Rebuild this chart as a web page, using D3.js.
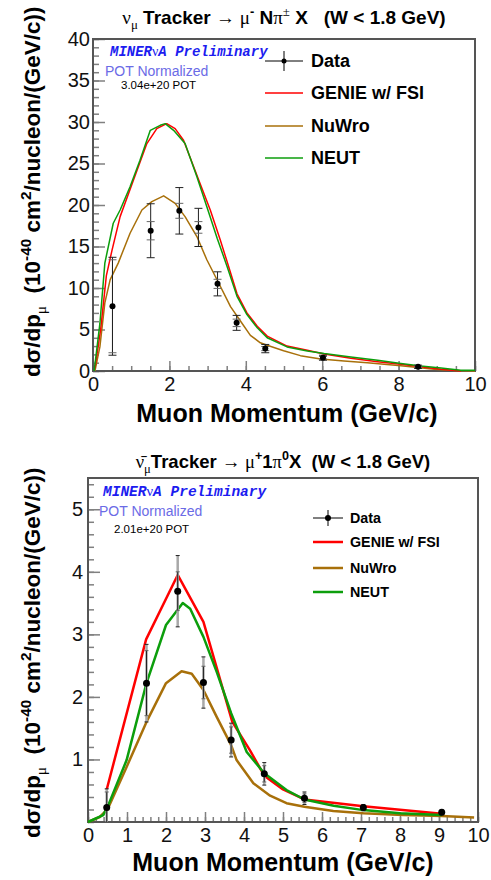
<!DOCTYPE html>
<html>
<head>
<meta charset="utf-8">
<script src="https://cdn.jsdelivr.net/npm/d3@7"></script>
<style>
  body { margin: 0; background: #fff; }
  svg { display: block; font-family: "Liberation Sans", Arial, sans-serif; }
  text { white-space: pre; }
</style>
</head>
<body>
<svg id="chart" width="491" height="880"></svg>
<script>
// ---- top panel: nu_mu -> mu- N pi+- X ----
const topDataX = [0.51, 1.51, 2.26, 2.76, 3.26, 3.76, 4.51, 6.02, 8.51];
const topDataY = [7.8, 16.9, 19.3, 17.3, 10.5, 5.8, 2.7, 1.6, 0.5];
const topTotErr = [5.9, 3.25, 2.8, 2.3, 1.45, 0.9, 0.5, 0.3, 0.2];
const topStatErr = [5.6, 1.1, 0.9, 0.7, 0.55, 0.45, 0.25, 0.15, 0.1];

const topGenie = [[0.05, 0.3], [0.2, 5], [0.35, 11.5], [0.5, 14.6], [0.71, 18.6], [1.06, 23.0], [1.41, 27.4],
  [1.67, 29.2], [1.93, 29.8], [2.15, 29.2], [2.37, 27.8], [2.81, 22.5], [3.07, 19.4], [3.33, 15.8],
  [3.55, 12.6], [3.77, 9.3], [4.03, 7.0], [4.3, 5.4], [4.56, 4.2], [5.08, 3.0], [5.61, 2.5], [6.05, 2.05],
  [6.75, 1.53], [7.45, 1.12], [8.06, 0.8], [8.58, 0.52], [9.11, 0.2], [9.63, 0]];
const topNuwro = [[0.05, 0], [0.18, 2.9], [0.31, 8.2], [0.45, 11.0], [0.66, 13.0], [0.97, 16.6], [1.28, 19.4],
  [1.54, 20.4], [1.85, 21.1], [2.15, 20.2], [2.41, 18.6], [2.72, 16.2], [2.98, 13.4], [3.29, 10.6],
  [3.6, 7.75], [3.9, 5.75], [4.12, 4.3], [4.38, 3.4], [4.56, 3.1], [4.99, 2.45], [5.43, 1.85], [5.96, 1.45],
  [6.57, 1.2], [7.18, 1.0], [8.06, 0.64], [8.93, 0.2], [9.45, 0.05], [10, 0]];
const topNeut = [[0.03, 0], [0.18, 5.7], [0.31, 13.0], [0.53, 17.8], [0.71, 19.4], [0.97, 22.2], [1.23, 25.4],
  [1.5, 29.0], [1.76, 29.6], [1.89, 29.8], [2.11, 29.0], [2.41, 27.4], [2.72, 23.4], [2.98, 19.8],
  [3.25, 16.0], [3.51, 12.6], [3.77, 9.0], [4.03, 6.8], [4.3, 5.2], [4.56, 4.0], [5.08, 2.9], [5.61, 2.4],
  [6.05, 2.1], [6.75, 1.7], [7.45, 1.3], [8.06, 0.9], [8.58, 0.6], [9.11, 0.35], [9.63, 0.1], [10, 0.08]];

// ---- bottom panel: nubar_mu -> mu+ 1pi0 X ----
const botDataX = [0.48, 1.50, 2.30, 2.96, 3.67, 4.52, 5.55, 7.06, 9.07];
const botDataY = [0.23, 2.22, 3.69, 2.23, 1.31, 0.77, 0.38, 0.23, 0.155];
const botTotErr = [0.3, 0.62, 0.57, 0.41, 0.27, 0.18, 0.1, 0.05, 0.04];
const botStatErr = [0.25, 0.52, 0.31, 0.26, 0.21, 0.13, 0.07, 0.03, 0.02];

const botGenie = [[0.48, 0.52], [1.49, 2.92], [2.30, 3.95], [2.96, 3.2], [3.70, 1.6], [4.15, 1.15],
  [4.52, 0.74], [5.0, 0.52], [5.55, 0.36], [7.06, 0.25], [9.07, 0.13]];
const botNuwro = [[0, 0], [0.3, 0.08], [0.5, 0.2], [0.99, 0.88], [1.5, 1.6], [2.0, 2.22], [2.4, 2.41],
  [2.66, 2.37], [2.96, 2.11], [3.3, 1.68], [3.67, 1.23], [3.81, 0.99], [4.24, 0.62], [4.67, 0.42],
  [5.09, 0.3], [5.55, 0.245], [6.29, 0.175], [7.06, 0.14], [8.08, 0.11], [9.07, 0.096], [9.9, 0.07]];
const botNeut = [[0, 0], [0.39, 0.11], [0.52, 0.27], [0.99, 0.99], [1.5, 2.22], [2.0, 3.15], [2.43, 3.5],
  [2.62, 3.41], [2.96, 2.96], [3.3, 2.4], [3.67, 1.74], [4.07, 1.12], [4.52, 0.78], [5.09, 0.51],
  [5.55, 0.36], [6.3, 0.26], [7.06, 0.19], [8.0, 0.14], [9.07, 0.11]];

const legendLabels = ['Data', 'GENIE w/ FSI', 'NuWro', 'NEUT'];
const colors = { genie: '#ff0000', nuwro: '#a8700a', neut: '#0c9e0c' };
const serif = '"Liberation Serif", "DejaVu Serif", serif';

const svg = d3.select('#chart');

// append tspans with sub/superscripts
function richText(sel, parts, size) {
  let shift = 0;
  parts.forEach(([t, kind, fam]) => {
    const target = kind === 'sup' ? -0.42 * size : kind === 'sub' ? 0.28 * size : 0;
    const ts = sel.append('tspan').text(t).attr('dy', target - shift);
    if (kind) ts.attr('font-size', size * 0.68);
    if (fam) ts.attr('font-family', fam).attr('font-weight', 'normal');
    shift = target;
  });
}

function drawPanel(p) {
  const x = d3.scaleLinear().domain([0, 10]).range([p.left, p.right]);
  const y = d3.scaleLinear().domain([0, p.ymax]).range([p.bottom, p.top]);
  const g = svg.append('g');

  // ticks (ROOT style, inside the frame)
  const tickStyle = (sel) => {
    sel.select('.domain').remove();
    sel.selectAll('.tick line').attr('stroke', '#808080').attr('stroke-width', 1.5);
    sel.selectAll('text').attr('font-size', 20).attr('fill', '#111')
      .attr('font-family', '"Liberation Sans", Arial, sans-serif');
  };
  g.append('g').attr('transform', `translate(0,${p.bottom})`)
    .call(d3.axisBottom(x).tickValues(p.xMinor).tickFormat('').tickSize(-5))
    .call(tickStyle);
  g.append('g').attr('transform', `translate(0,${p.bottom})`)
    .call(d3.axisBottom(x).tickValues(p.xMajor).tickFormat(d3.format('d')).tickSize(-10).tickPadding(6))
    .call(tickStyle);
  g.append('g').attr('transform', `translate(${p.left},0)`)
    .call(d3.axisLeft(y).tickValues(p.yMinor).tickFormat('').tickSize(-6))
    .call(tickStyle);
  g.append('g').attr('transform', `translate(${p.left},0)`)
    .call(d3.axisLeft(y).tickValues(p.yMajor).tickFormat(d3.format('d')).tickSize(-12).tickPadding(p.yPad))
    .call(tickStyle);

  // frame
  g.append('rect')
    .attr('x', p.left).attr('y', p.top)
    .attr('width', p.right - p.left).attr('height', p.bottom - p.top)
    .attr('fill', 'none').attr('stroke', '#555').attr('stroke-width', 2);

  // model curves
  const line = d3.line().x((d) => x(d[0])).y((d) => y(d[1]));
  [[p.nuwro, colors.nuwro], [p.genie, colors.genie], [p.neut, colors.neut]].forEach(([c, col]) => {
    g.append('path').datum(c).attr('d', line)
      .attr('fill', 'none').attr('stroke', col).attr('stroke-width', p.lw)
      .attr('stroke-linejoin', 'round');
  });

  // data with error bars
  const pts = p.dx.map((v, i) => ({ x: v, y: p.dy[i], tot: p.tot[i], stat: p.stat[i] }));
  const eb = g.append('g');
  pts.forEach((d) => {
    const cx = x(d.x);
    eb.append('line').attr('x1', cx).attr('x2', cx)
      .attr('y1', y(d.y + d.tot)).attr('y2', y(Math.max(0, d.y - d.tot)))
      .attr('stroke', p.grayTot ? '#a8a8a8' : '#222').attr('stroke-width', p.grayTot ? 2.5 : 1);
    eb.append('line').attr('x1', cx).attr('x2', cx)
      .attr('y1', y(d.y + d.stat)).attr('y2', y(Math.max(0, d.y - d.stat)))
      .attr('stroke', '#222').attr('stroke-width', 1);
    [d.y + d.tot, d.y - d.tot].forEach((v) => {
      if (v < 0) return;
      eb.append('line').attr('x1', cx - p.cap).attr('x2', cx + p.cap)
        .attr('y1', y(v)).attr('y2', y(v)).attr('stroke', '#222').attr('stroke-width', 1);
    });
    [d.y + d.stat, d.y - d.stat].forEach((v) => {
      if (v < 0) return;
      eb.append('line').attr('x1', cx - p.cap).attr('x2', cx + p.cap)
        .attr('y1', y(v)).attr('y2', y(v)).attr('stroke', '#666').attr('stroke-width', 1);
    });
  });
  g.append('g').selectAll('circle').data(pts).join('circle')
    .attr('cx', (d) => x(d.x)).attr('cy', (d) => y(d.y)).attr('r', p.r).attr('fill', '#000');

  // legend
  const lg = g.append('g');
  legendLabels.forEach((lab, i) => {
    const ly = p.legY[i];
    const col = [null, colors.genie, colors.nuwro, colors.neut][i];
    lg.append('line').attr('x1', p.legX0).attr('x2', p.legX1).attr('y1', ly).attr('y2', ly)
      .attr('stroke', col || '#000').attr('stroke-width', col ? p.legLw : 1);
    if (!col) {
      const mx = (p.legX0 + p.legX1) / 2;
      lg.append('line').attr('x1', mx).attr('x2', mx).attr('y1', ly - p.legBar).attr('y2', ly + p.legBar)
        .attr('stroke', '#000').attr('stroke-width', 1);
      lg.append('circle').attr('cx', mx).attr('cy', ly).attr('r', p.r - 0.5).attr('fill', '#000');
    }
    lg.append('text').attr('x', p.legTx).attr('y', ly + p.legFs * 0.36)
      .attr('font-size', p.legFs).attr('font-weight', 'bold').attr('fill', '#000').text(lab);
  });

  // annotations
  const mv = g.append('text').attr('x', p.minX).attr('y', p.minY)
    .attr('font-family', '"Liberation Mono", "Courier New", monospace')
    .attr('font-style', 'italic').attr('font-weight', 'bold')
    .attr('font-size', p.minFs).attr('fill', '#1c1cf0');
  mv.append('tspan').text('MINER');
  mv.append('tspan').text('ν').attr('font-family', serif).attr('font-style', 'normal').attr('font-weight', 'normal');
  mv.append('tspan').text('A Preliminary');
  g.append('text').attr('x', p.potX).attr('y', p.potY).attr('font-size', 14)
    .attr('fill', '#6b6be6').text('POT Normalized');
  g.append('text').attr('x', p.expX).attr('y', p.expY).attr('font-size', 11.5)
    .attr('fill', '#000').text(p.exposure);

  // title
  const t = g.append('text').attr('x', p.titleX).attr('y', p.titleY).attr('text-anchor', 'middle')
    .attr('font-size', p.titleFs).attr('font-weight', 'bold').attr('fill', '#000');
  richText(t, p.title, p.titleFs);

  // axis titles
  g.append('text').attr('x', (p.left + p.right) / 2 + p.xtDx).attr('y', p.xtY)
    .attr('text-anchor', 'middle').attr('font-size', 25).attr('font-weight', 'bold')
    .attr('fill', '#000').text('Muon Momentum (GeV/c)');
  const yt = g.append('text').attr('transform', `translate(${p.ytX},${p.ytY}) rotate(-90)`)
    .attr('font-size', 22.5).attr('font-weight', 'bold').attr('fill', '#000');
  richText(yt, [['dσ/dp'], ['μ', 'sub', serif], ['  (10'], ['-40', 'sup'], [' cm'], ['2', 'sup'],
    ['/nucleon/(GeV/c))']], 22.5);
}

drawPanel({
  left: 93, right: 475, top: 39, bottom: 371, ymax: 40,
  xMajor: [0, 2, 4, 6, 8, 10], xMinor: d3.range(0, 10.01, 0.5),
  yMajor: d3.range(0, 41, 5), yMinor: d3.range(0, 40.5, 1), yPad: 3,
  genie: topGenie, nuwro: topNuwro, neut: topNeut, lw: 1.5,
  dx: topDataX, dy: topDataY, tot: topTotErr, stat: topStatErr, grayTot: false, cap: 4, r: 3,
  legX0: 265, legX1: 303, legTx: 311, legY: [61, 93, 126, 158], legFs: 18, legLw: 1.5, legBar: 10,
  minX: 110, minY: 56, minFs: 14, potX: 105, potY: 76, expX: 121, expY: 89, exposure: '3.04e+20 POT',
  titleX: 284, titleY: 24, titleFs: 19,
  title: [['ν', null, serif], ['μ', 'sub', serif], [' Tracker '], ['→', null, serif], [' μ', null, serif],
    ['-', 'sup'], [' N'], ['π', null, serif], ['±', 'sup', serif], [' X   (W < 1.8 GeV)']],
  xtDx: 3, xtY: 422, ytX: 40, ytY: 377
});

drawPanel({
  left: 88, right: 478, top: 478, bottom: 822, ymax: 5.5,
  xMajor: d3.range(0, 11, 1), xMinor: d3.range(0, 10.01, 0.2),
  yMajor: [1, 2, 3, 4, 5], yMinor: d3.range(0, 5.41, 0.2), yPad: 5,
  genie: botGenie, nuwro: botNuwro, neut: botNeut, lw: 2.5,
  dx: botDataX, dy: botDataY, tot: botTotErr, stat: botStatErr, grayTot: true, cap: 2, r: 3.5,
  legX0: 313, legX1: 343, legTx: 350, legY: [518, 542, 568, 592], legFs: 14.3, legLw: 2.5, legBar: 8,
  minX: 103, minY: 496, minFs: 14.5, potX: 99, potY: 516, expX: 114, expY: 533, exposure: '2.01e+20 POT',
  titleX: 283, titleY: 468, titleFs: 18.5,
  title: [['ν̄', null, serif], ['μ', 'sub', serif], ['Tracker '], ['→', null, serif], [' μ', null, serif],
    ['+', 'sup'], ['1'], ['π', null, serif], ['0', 'sup'], ['X  (W < 1.8 GeV)']],
  xtDx: 0, xtY: 871, ytX: 40, ytY: 838
});
</script>
</body>
</html>
